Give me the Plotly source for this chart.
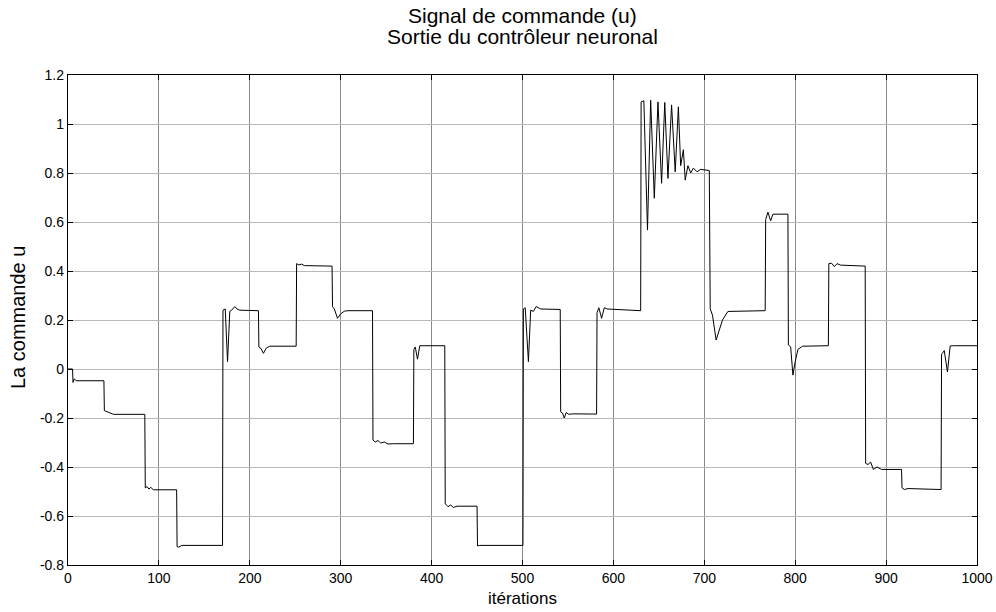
import plotly.graph_objects as go

# Iterations (x) and control signal values (y)
iterations = [
    0, 5, 5.5, 7, 9, 39.5,
    40, 43, 46, 50, 84.5,
    85, 87, 89, 91, 94, 119.5,
    120, 122, 125, 170,
    170.5, 173, 175.5, 178, 180, 183.5, 186, 189, 209.5,
    210, 212, 215, 218, 222, 251,
    251.5, 254, 257, 260, 290.5,
    291, 293, 296.5, 300, 304, 308, 335,
    335.5, 338, 341, 344, 348, 352, 358, 380,
    380.5, 382, 384.5, 387, 414.5,
    415, 418, 421, 424, 428, 450,
    450.5, 453, 500.5,
    501, 503, 506.5, 509, 512, 515, 520, 541.5,
    542, 544, 546, 548, 551, 555, 581.5,
    582, 584, 587, 590, 593, 630,
    630.5, 633.5, 637.5, 641, 645, 649, 653, 656.5, 660, 664, 668, 671.5,
    674, 677, 679, 682, 685, 688, 692, 696, 705.5,
    706.5, 709, 713, 716, 720, 726, 767,
    767.5, 770, 773, 775.5, 792,
    792.5, 795, 797.5, 800, 803, 808, 836.5,
    837, 840, 843, 846, 850, 877,
    877.5, 880, 883, 886, 890, 895, 917,
    917.5, 920, 924, 960.5,
    961, 964, 967.5, 970.5, 974, 1000,
]
commande = [
    0, 0, -0.055, -0.04, -0.048, -0.048,
    -0.17, -0.175, -0.18, -0.185, -0.185,
    -0.485, -0.48, -0.49, -0.483, -0.493, -0.493,
    -0.725, -0.727, -0.72, -0.72,
    0.24, 0.245, 0.03, 0.235, 0.24, 0.255, 0.245, 0.24, 0.238,
    0.09, 0.085, 0.064, 0.085, 0.093, 0.093,
    0.43, 0.425, 0.428, 0.422, 0.42,
    0.255, 0.245, 0.207, 0.225, 0.236, 0.238, 0.238,
    -0.29, -0.298, -0.292, -0.302, -0.298, -0.306, -0.305, -0.305,
    0.08, 0.09, 0.04, 0.095, 0.095,
    -0.55, -0.562, -0.555, -0.565, -0.56, -0.56,
    -0.722, -0.72, -0.72,
    0.245, 0.25, 0.03, 0.24, 0.235, 0.255, 0.245, 0.243,
    -0.175, -0.18, -0.2, -0.178, -0.185, -0.183, -0.184,
    0.23, 0.25, 0.207, 0.25, 0.245, 0.238,
    1.09, 1.095, 0.567, 1.097, 0.697, 1.09, 0.758, 1.088, 0.778, 1.078, 0.805, 1.07,
    0.83, 0.895, 0.771, 0.83, 0.80, 0.82, 0.805, 0.815, 0.81,
    0.245, 0.22, 0.118, 0.15, 0.20, 0.235, 0.238,
    0.61, 0.64, 0.605, 0.632, 0.632,
    0.098, 0.09, -0.025, 0.03, 0.08, 0.093, 0.095,
    0.43, 0.432, 0.418, 0.43, 0.424, 0.42,
    -0.385, -0.39, -0.38, -0.41, -0.40, -0.41, -0.41,
    -0.485, -0.492, -0.488, -0.492,
    0.06, 0.075, -0.012, 0.094, 0.095, 0.095,
]

x_ticks = [0, 100, 200, 300, 400, 500, 600, 700, 800, 900, 1000]
y_ticks = [-0.8, -0.6, -0.4, -0.2, 0, 0.2, 0.4, 0.6, 0.8, 1, 1.2]
y_tick_text = ["-0.8", "-0.6", "-0.4", "-0.2", "0", "0.2", "0.4", "0.6", "0.8", "1", "1.2"]

title_lines = ["Signal de commande (u)", "Sortie du contrôleur neuronal"]
x_label = "itérations"
y_label = "La commande u"

FONT = "Liberation Sans, Arial, sans-serif"

fig = go.Figure()
fig.add_trace(go.Scatter(
    x=iterations, y=commande, mode="lines",
    line=dict(color="black", width=1),
    showlegend=False, hoverinfo="skip",
))

fig.update_layout(
    width=996, height=612,
    margin=dict(l=68, r=19, t=75, b=47, autoexpand=False),
    paper_bgcolor="white", plot_bgcolor="white",
    font=dict(family=FONT, color="black", size=14),
)
fig.update_xaxes(
    range=[0, 1000], tickvals=x_ticks, ticktext=[str(v) for v in x_ticks],
    showgrid=True, gridcolor="#8a8a8a", gridwidth=1,
    zeroline=False, showline=True, linecolor="black", linewidth=1.3,
    mirror="ticks", ticks="inside", ticklen=5, tickcolor="black",
    tickfont=dict(size=14), ticklabelstandoff=0, automargin=False,
)
fig.update_yaxes(
    range=[-0.8, 1.2], tickvals=y_ticks, ticktext=y_tick_text,
    showgrid=True, gridcolor="#b8b8b8", gridwidth=1,
    zeroline=False, showline=True, linecolor="black", linewidth=1.3,
    mirror="ticks", ticks="inside", ticklen=5, tickcolor="black",
    tickfont=dict(size=14), automargin=False,
)

# Title (two lines), axis labels
fig.add_annotation(text=title_lines[0], xref="paper", yref="paper", x=0.5, y=1,
                   yshift=60, xanchor="center", yanchor="middle", showarrow=False,
                   font=dict(size=21))
fig.add_annotation(text=title_lines[1], xref="paper", yref="paper", x=0.5, y=1,
                   yshift=39, xanchor="center", yanchor="middle", showarrow=False,
                   font=dict(size=21))
fig.add_annotation(text=x_label, xref="paper", yref="paper", x=0.5, y=0,
                   yshift=-33, xanchor="center", yanchor="middle", showarrow=False,
                   font=dict(size=17))
fig.add_annotation(text=y_label, xref="paper", yref="paper", x=0, y=0.5,
                   xshift=-50, yshift=2, xanchor="center", yanchor="middle",
                   textangle=-90, showarrow=False, font=dict(size=20))

fig.write_html("out.html")
